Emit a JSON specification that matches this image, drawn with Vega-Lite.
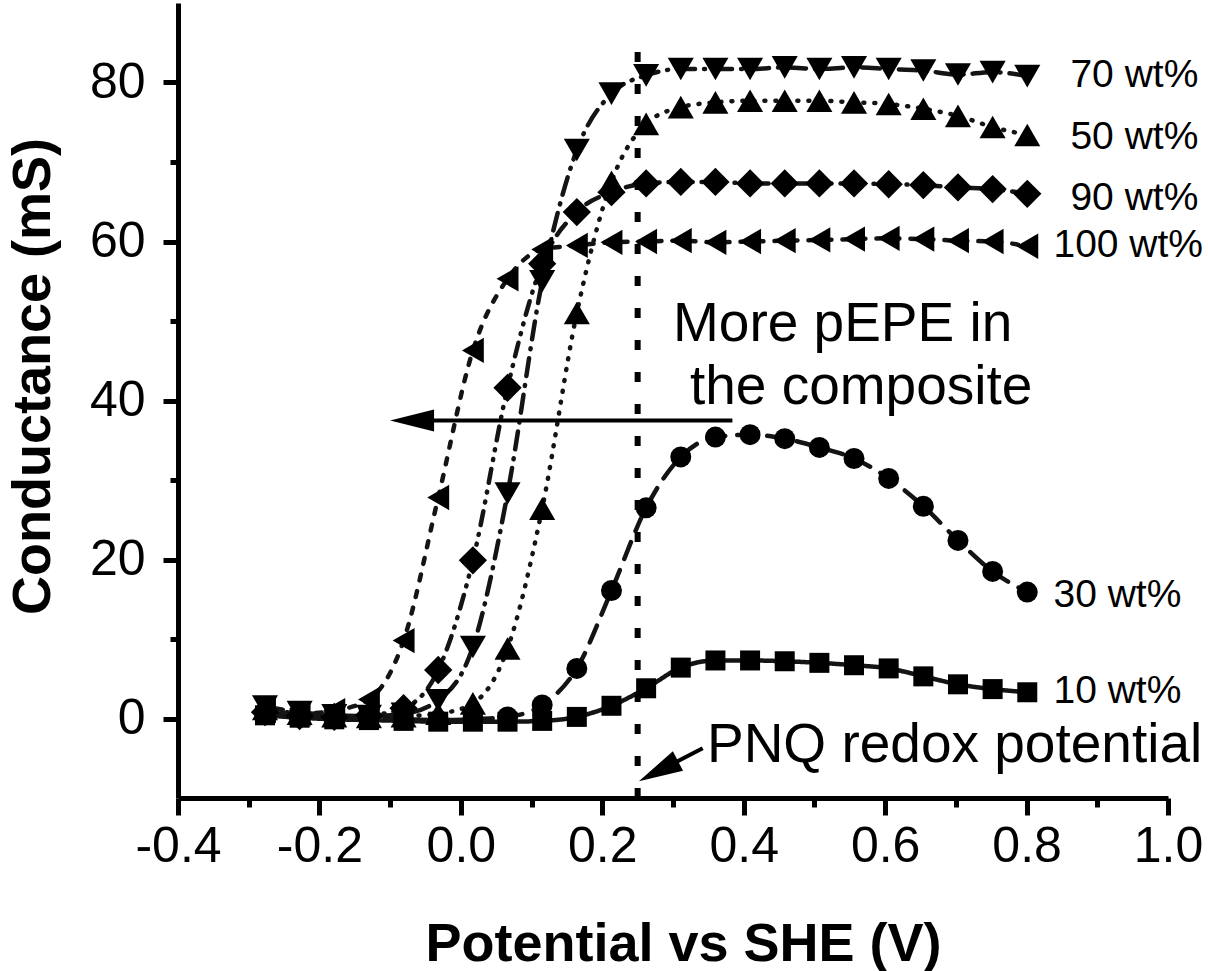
{
  "$schema": "https://vega.github.io/schema/vega-lite/v6.json",
  "width": 990,
  "height": 795,
  "autosize": {"type": "none"},
  "padding": {"left": 178, "top": 3, "right": 40, "bottom": 173},
  "background": "white",
  "config": {
    "view": {"stroke": null},
    "font": "Liberation Sans",
    "axis": {
      "grid": false,
      "domainColor": "black",
      "domainWidth": 5,
      "tickColor": "black",
      "tickWidth": 5,
      "labelColor": "black",
      "titleColor": "black",
      "labelFont": "Liberation Sans",
      "titleFont": "Liberation Sans",
      "labelFontSize": 50,
      "titleFontSize": 54,
      "titleFontWeight": "bold",
      "labelOverlap": false,
      "labelFlush": false
    }
  },
  "datasets": {
    "pts": [
      {"s": "10 wt%", "v": -0.277, "g": 0.4}, {"s": "10 wt%", "v": -0.228, "g": 0.1}, {"s": "10 wt%", "v": -0.179, "g": -0.1},
      {"s": "10 wt%", "v": -0.130, "g": -0.2}, {"s": "10 wt%", "v": -0.081, "g": -0.3}, {"s": "10 wt%", "v": -0.032, "g": -0.4},
      {"s": "10 wt%", "v": 0.017, "g": -0.4}, {"s": "10 wt%", "v": 0.066, "g": -0.4}, {"s": "10 wt%", "v": 0.115, "g": -0.3},
      {"s": "10 wt%", "v": 0.164, "g": 0.2}, {"s": "10 wt%", "v": 0.213, "g": 1.6}, {"s": "10 wt%", "v": 0.262, "g": 3.8},
      {"s": "10 wt%", "v": 0.311, "g": 6.4}, {"s": "10 wt%", "v": 0.360, "g": 7.3}, {"s": "10 wt%", "v": 0.409, "g": 7.3},
      {"s": "10 wt%", "v": 0.458, "g": 7.2}, {"s": "10 wt%", "v": 0.507, "g": 7.0}, {"s": "10 wt%", "v": 0.556, "g": 6.7},
      {"s": "10 wt%", "v": 0.605, "g": 6.3}, {"s": "10 wt%", "v": 0.654, "g": 5.3}, {"s": "10 wt%", "v": 0.703, "g": 4.3},
      {"s": "10 wt%", "v": 0.752, "g": 3.7}, {"s": "10 wt%", "v": 0.801, "g": 3.3},

      {"s": "30 wt%", "v": -0.277, "g": 0.8}, {"s": "30 wt%", "v": -0.228, "g": 0.4}, {"s": "30 wt%", "v": -0.179, "g": 0.1},
      {"s": "30 wt%", "v": -0.130, "g": 0.0}, {"s": "30 wt%", "v": -0.081, "g": -0.1}, {"s": "30 wt%", "v": -0.032, "g": -0.2},
      {"s": "30 wt%", "v": 0.017, "g": -0.1}, {"s": "30 wt%", "v": 0.066, "g": 0.2}, {"s": "30 wt%", "v": 0.115, "g": 1.7},
      {"s": "30 wt%", "v": 0.164, "g": 6.3}, {"s": "30 wt%", "v": 0.213, "g": 16.1}, {"s": "30 wt%", "v": 0.262, "g": 26.5},
      {"s": "30 wt%", "v": 0.311, "g": 32.9}, {"s": "30 wt%", "v": 0.360, "g": 35.4}, {"s": "30 wt%", "v": 0.409, "g": 35.7},
      {"s": "30 wt%", "v": 0.458, "g": 35.2}, {"s": "30 wt%", "v": 0.507, "g": 34.1}, {"s": "30 wt%", "v": 0.556, "g": 32.7},
      {"s": "30 wt%", "v": 0.605, "g": 30.2}, {"s": "30 wt%", "v": 0.654, "g": 26.7}, {"s": "30 wt%", "v": 0.703, "g": 22.4},
      {"s": "30 wt%", "v": 0.752, "g": 18.5}, {"s": "30 wt%", "v": 0.801, "g": 15.9},

      {"s": "50 wt%", "v": -0.277, "g": 1.2}, {"s": "50 wt%", "v": -0.228, "g": 0.6}, {"s": "50 wt%", "v": -0.179, "g": 0.3},
      {"s": "50 wt%", "v": -0.130, "g": 0.2}, {"s": "50 wt%", "v": -0.081, "g": 0.3}, {"s": "50 wt%", "v": -0.032, "g": 0.6},
      {"s": "50 wt%", "v": 0.017, "g": 1.9}, {"s": "50 wt%", "v": 0.066, "g": 8.8}, {"s": "50 wt%", "v": 0.115, "g": 26.4},
      {"s": "50 wt%", "v": 0.164, "g": 51.0}, {"s": "50 wt%", "v": 0.213, "g": 67.5}, {"s": "50 wt%", "v": 0.262, "g": 74.8},
      {"s": "50 wt%", "v": 0.311, "g": 76.9}, {"s": "50 wt%", "v": 0.360, "g": 77.5}, {"s": "50 wt%", "v": 0.409, "g": 77.7},
      {"s": "50 wt%", "v": 0.458, "g": 77.7}, {"s": "50 wt%", "v": 0.507, "g": 77.7}, {"s": "50 wt%", "v": 0.556, "g": 77.5},
      {"s": "50 wt%", "v": 0.605, "g": 77.3}, {"s": "50 wt%", "v": 0.654, "g": 76.7}, {"s": "50 wt%", "v": 0.703, "g": 75.8},
      {"s": "50 wt%", "v": 0.752, "g": 74.4}, {"s": "50 wt%", "v": 0.801, "g": 73.4},

      {"s": "70 wt%", "v": -0.277, "g": 1.5}, {"s": "70 wt%", "v": -0.228, "g": 0.8}, {"s": "70 wt%", "v": -0.179, "g": 0.4},
      {"s": "70 wt%", "v": -0.130, "g": 0.3}, {"s": "70 wt%", "v": -0.081, "g": 0.6}, {"s": "70 wt%", "v": -0.032, "g": 2.3},
      {"s": "70 wt%", "v": 0.017, "g": 9.0}, {"s": "70 wt%", "v": 0.066, "g": 28.3}, {"s": "70 wt%", "v": 0.115, "g": 55.0},
      {"s": "70 wt%", "v": 0.164, "g": 71.5}, {"s": "70 wt%", "v": 0.213, "g": 78.6}, {"s": "70 wt%", "v": 0.262, "g": 80.9},
      {"s": "70 wt%", "v": 0.311, "g": 81.7}, {"s": "70 wt%", "v": 0.360, "g": 81.7}, {"s": "70 wt%", "v": 0.409, "g": 81.7},
      {"s": "70 wt%", "v": 0.458, "g": 81.9}, {"s": "70 wt%", "v": 0.507, "g": 81.7}, {"s": "70 wt%", "v": 0.556, "g": 81.9},
      {"s": "70 wt%", "v": 0.605, "g": 81.7}, {"s": "70 wt%", "v": 0.654, "g": 81.5}, {"s": "70 wt%", "v": 0.703, "g": 81.0},
      {"s": "70 wt%", "v": 0.752, "g": 81.3}, {"s": "70 wt%", "v": 0.801, "g": 80.8},

      {"s": "90 wt%", "v": -0.277, "g": 0.8}, {"s": "90 wt%", "v": -0.228, "g": 0.3}, {"s": "90 wt%", "v": -0.179, "g": 0.2},
      {"s": "90 wt%", "v": -0.130, "g": 0.4}, {"s": "90 wt%", "v": -0.081, "g": 1.3}, {"s": "90 wt%", "v": -0.032, "g": 6.1},
      {"s": "90 wt%", "v": 0.017, "g": 19.9}, {"s": "90 wt%", "v": 0.066, "g": 41.6}, {"s": "90 wt%", "v": 0.115, "g": 57.2},
      {"s": "90 wt%", "v": 0.164, "g": 63.7}, {"s": "90 wt%", "v": 0.213, "g": 66.2}, {"s": "90 wt%", "v": 0.262, "g": 67.3},
      {"s": "90 wt%", "v": 0.311, "g": 67.5}, {"s": "90 wt%", "v": 0.360, "g": 67.5}, {"s": "90 wt%", "v": 0.409, "g": 67.3},
      {"s": "90 wt%", "v": 0.458, "g": 67.3}, {"s": "90 wt%", "v": 0.507, "g": 67.3}, {"s": "90 wt%", "v": 0.556, "g": 67.3},
      {"s": "90 wt%", "v": 0.605, "g": 67.2}, {"s": "90 wt%", "v": 0.654, "g": 67.1}, {"s": "90 wt%", "v": 0.703, "g": 66.8},
      {"s": "90 wt%", "v": 0.752, "g": 66.6}, {"s": "90 wt%", "v": 0.801, "g": 66.0},

      {"s": "100 wt%", "v": -0.277, "g": 1.0}, {"s": "100 wt%", "v": -0.228, "g": 0.6}, {"s": "100 wt%", "v": -0.179, "g": 1.0},
      {"s": "100 wt%", "v": -0.130, "g": 2.4}, {"s": "100 wt%", "v": -0.081, "g": 9.8}, {"s": "100 wt%", "v": -0.032, "g": 27.8},
      {"s": "100 wt%", "v": 0.017, "g": 46.3}, {"s": "100 wt%", "v": 0.066, "g": 55.3}, {"s": "100 wt%", "v": 0.115, "g": 59.0},
      {"s": "100 wt%", "v": 0.164, "g": 59.5}, {"s": "100 wt%", "v": 0.213, "g": 59.9}, {"s": "100 wt%", "v": 0.262, "g": 60.0},
      {"s": "100 wt%", "v": 0.311, "g": 60.1}, {"s": "100 wt%", "v": 0.360, "g": 59.9}, {"s": "100 wt%", "v": 0.409, "g": 60.0},
      {"s": "100 wt%", "v": 0.458, "g": 60.1}, {"s": "100 wt%", "v": 0.507, "g": 60.2}, {"s": "100 wt%", "v": 0.556, "g": 60.3},
      {"s": "100 wt%", "v": 0.605, "g": 60.4}, {"s": "100 wt%", "v": 0.654, "g": 60.3}, {"s": "100 wt%", "v": 0.703, "g": 60.1},
      {"s": "100 wt%", "v": 0.752, "g": 60.0}, {"s": "100 wt%", "v": 0.801, "g": 59.4}
    ],
    "labels": [
      {"t": "70 wt%", "x": 0.862, "y": 80.9},
      {"t": "50 wt%", "x": 0.862, "y": 73.1},
      {"t": "90 wt%", "x": 0.862, "y": 65.5},
      {"t": "100 wt%", "x": 0.838, "y": 59.5},
      {"t": "30 wt%", "x": 0.838, "y": 15.5},
      {"t": "10 wt%", "x": 0.838, "y": 3.4}
    ],
    "notes": [
      {"t": "More pEPE in", "x": 0.300, "y": 47.5},
      {"t": "the composite", "x": 0.324, "y": 39.6},
      {"t": "PNQ redox potential", "x": 0.348, "y": -5.5}
    ],
    "arrows": [
      {"x": -0.069, "y": 37.5, "x2": 0.384, "y2": 37.5, "a": 0},
      {"x": 0.2794, "y": -6.62, "x2": 0.342, "y2": -3.75, "a": 332.5}
    ],
    "redox": [
      {"x": 0.25, "y": -10, "y2": 85}
    ]
  },
  "layer": [
    {
      "data": {"name": "pts"},
      "mark": {"type": "line", "interpolate": "monotone", "strokeWidth": 4.5, "color": "#141414", "strokeCap": "round"},
      "encoding": {
        "x": {
          "field": "v", "type": "quantitative",
          "scale": {"domain": [-0.4, 1.0], "nice": false, "zero": false},
          "axis": {
            "orient": "bottom",
            "values": [-0.4, -0.2, 0, 0.2, 0.4, 0.6, 0.8, 1.0],
            "labelExpr": "datum.value < 0 ? '-' + format(-datum.value, '.1f') : format(datum.value, '.1f')",
            "tickSize": 17,
            "labelPadding": 6,
            "title": "Potential vs SHE (V)",
            "titleX": 505,
            "titleY": 162,
            "titleBaseline": "alphabetic"
          }
        },
        "y": {
          "field": "g", "type": "quantitative",
          "scale": {"domain": [-10, 90], "nice": false, "zero": false},
          "axis": {
            "orient": "left",
            "values": [0, 20, 40, 60, 80],
            "tickSize": 15,
            "labelPadding": 18,
            "title": "Conductance (mS)",
            "titleX": -129,
            "titleY": 373,
            "titleBaseline": "alphabetic"
          }
        },
        "detail": {"field": "s", "type": "nominal"},
        "strokeDash": {
          "field": "s", "type": "nominal", "legend": null,
          "scale": {
            "domain": ["10 wt%", "30 wt%", "50 wt%", "70 wt%", "90 wt%", "100 wt%"],
            "range": [[1, 0], [18, 12], [1, 10], [18, 9, 1, 9], [14, 9, 1, 9, 1, 9], [6, 11]]
          }
        }
      }
    },
    {
      "data": {"name": "pts"},
      "mark": {"type": "point", "filled": true, "opacity": 1, "color": "black", "strokeWidth": 0},
      "encoding": {
        "x": {"field": "v", "type": "quantitative", "axis": null},
        "y": {"field": "g", "type": "quantitative", "axis": null},
        "shape": {
          "field": "s", "type": "nominal", "legend": null,
          "scale": {
            "domain": ["10 wt%", "30 wt%", "50 wt%", "70 wt%", "90 wt%", "100 wt%"],
            "range": ["square", "circle", "triangle-up", "triangle-down", "diamond", "triangle-left"]
          }
        },
        "size": {
          "field": "s", "type": "nominal", "legend": null,
          "scale": {
            "type": "ordinal",
            "domain": ["10 wt%", "30 wt%", "50 wt%", "70 wt%", "90 wt%", "100 wt%"],
            "range": [400, 440, 680, 680, 800, 640]
          }
        }
      }
    },
    {
      "data": {"name": "redox"},
      "mark": {"type": "rule", "strokeWidth": 6, "strokeDash": [10, 22], "color": "black"},
      "encoding": {
        "x": {
          "field": "x", "type": "quantitative",
          "axis": {
            "orient": "bottom",
            "values": [-0.3, -0.1, 0.1, 0.3, 0.5, 0.7, 0.9],
            "labels": false, "domain": false, "tickSize": 9, "title": null
          }
        },
        "y": {
          "field": "y", "type": "quantitative",
          "axis": {
            "orient": "left",
            "values": [10, 30, 50, 70],
            "labels": false, "domain": false, "tickSize": 8, "title": null
          }
        },
        "y2": {"field": "y2"}
      }
    },
    {
      "data": {"name": "arrows"},
      "mark": {"type": "rule", "strokeWidth": 4, "color": "black"},
      "encoding": {
        "x": {"field": "x", "type": "quantitative", "axis": null},
        "y": {"field": "y", "type": "quantitative", "axis": null},
        "x2": {"field": "x2"},
        "y2": {"field": "y2"}
      }
    },
    {
      "data": {"name": "arrows"},
      "mark": {"type": "point", "filled": true, "opacity": 1, "color": "black", "strokeWidth": 0, "size": 1936, "shape": "M-1,0L1,-0.5L1,0.5Z"},
      "encoding": {
        "x": {"field": "x", "type": "quantitative", "axis": null},
        "y": {"field": "y", "type": "quantitative", "axis": null},
        "angle": {"field": "a", "type": "quantitative", "scale": null}
      }
    },
    {
      "data": {"name": "labels"},
      "mark": {"type": "text", "align": "left", "baseline": "middle", "fontSize": 39, "font": "Liberation Sans", "color": "black"},
      "encoding": {
        "x": {"field": "x", "type": "quantitative", "axis": null},
        "y": {"field": "y", "type": "quantitative", "axis": null},
        "text": {"field": "t"}
      }
    },
    {
      "data": {"name": "notes"},
      "mark": {"type": "text", "align": "left", "baseline": "alphabetic", "fontSize": 55, "font": "Liberation Sans", "color": "black"},
      "encoding": {
        "x": {"field": "x", "type": "quantitative", "axis": null},
        "y": {"field": "y", "type": "quantitative", "axis": null},
        "text": {"field": "t"}
      }
    }
  ],
  "resolve": {"axis": {"x": "independent", "y": "independent"}}
}
